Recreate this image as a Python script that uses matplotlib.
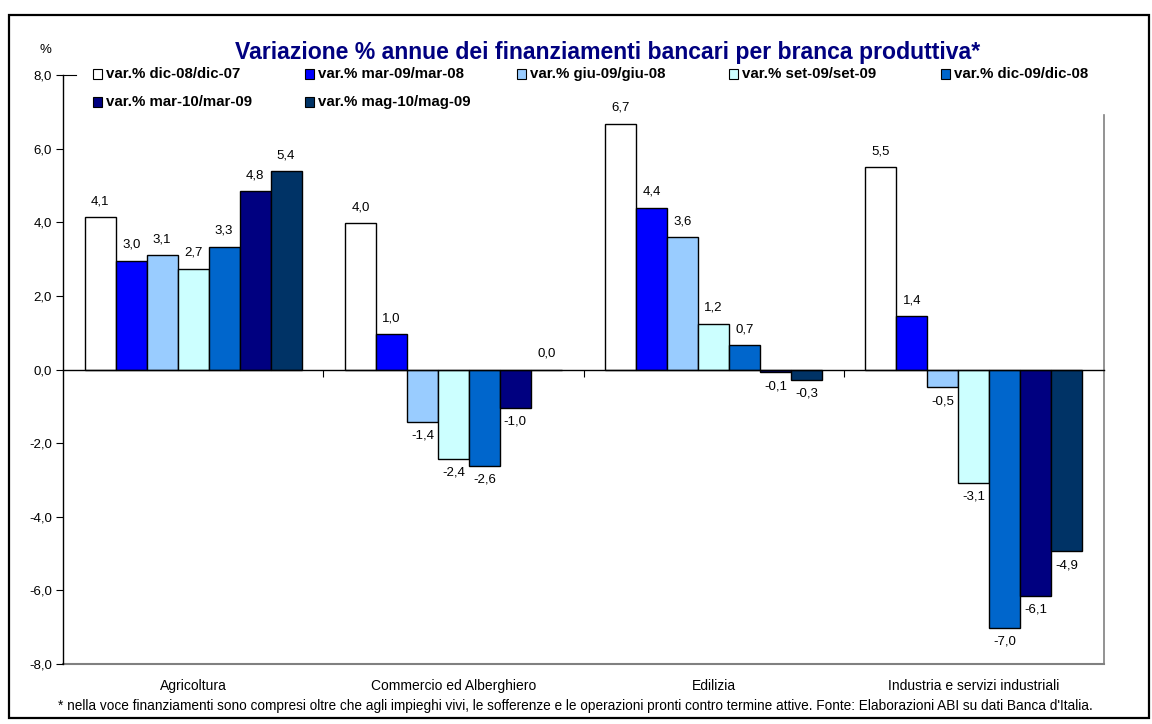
import matplotlib
matplotlib.use("Agg")
import matplotlib.pyplot as plt
from matplotlib.patches import Rectangle
import numpy as np

categories = ["Agricoltura", "Commercio ed Alberghiero", "Edilizia",
              "Industria e servizi industriali"]
series_names = ["var.% dic-08/dic-07", "var.% mar-09/mar-08", "var.% giu-09/giu-08",
                "var.% set-09/set-09", "var.% dic-09/dic-08", "var.% mar-10/mar-09",
                "var.% mag-10/mag-09"]
dic08 = [4.13, 3.98, 6.68, 5.50]
mar09 = [2.96, 0.96, 4.40, 1.44]
giu09 = [3.10, -1.42, 3.60, -0.48]
set09 = [2.74, -2.42, 1.24, -3.08]
dic09 = [3.33, -2.62, 0.66, -7.02]
mar10 = [4.84, -1.04, -0.08, -6.14]
mag10 = [5.38, 0.0, -0.28, -4.94]
series = [dic08, mar09, giu09, set09, dic09, mar10, mag10]
colors = ["#FFFFFF", "#0000FF", "#99CCFF", "#CCFFFF", "#0066CC", "#000080", "#003366"]
yticks = [-8, -6, -4, -2, 0, 2, 4, 6, 8]

FONT = "Liberation Sans"
plt.rcParams['font.family'] = [FONT, 'DejaVu Sans']

W, H = 1152, 724
fig = plt.figure(figsize=(W / 100, H / 100), dpi=100)

def fx(px):
    return px / W

def fy(py):
    return 1 - py / H

# outer frame
fig.patches.append(Rectangle((fx(9), fy(718)), fx(1149) - fx(9), fy(15) - fy(718),
                             transform=fig.transFigure, fill=False, edgecolor='black',
                             linewidth=1.6))

ax = fig.add_axes([fx(63), fy(664), fx(1104) - fx(63), fy(75) - fy(664)])

n = len(series)
bw = 0.119
x = np.arange(len(categories))
for i, (vals, c) in enumerate(zip(series, colors)):
    pos = x + (i - (n - 1) / 2) * bw
    ax.bar(pos, vals, width=bw, color=c, edgecolor='black', linewidth=1.0, zorder=3)
    for p, v in zip(pos, vals):
        lab = f"{abs(v):.1f}".replace('.', ',')
        if round(v, 1) < 0:
            lab = "-" + lab
            ax.annotate(lab, (p, v), xytext=(0, -10), textcoords='offset points',
                        ha='center', va='center', fontsize=9.5, color='black')
        else:
            ax.annotate(lab, (p, v), xytext=(0, 11.5), textcoords='offset points',
                        ha='center', va='center', fontsize=9.5, color='black')

ax.set_xlim(-0.5, len(categories) - 0.5)
ax.set_ylim(-8, 8)
ax.set_yticks(yticks)
ax.set_yticklabels([f"{t:.1f}".replace('.', ',') for t in yticks], fontsize=9.5)
ax.tick_params(axis='y', direction='out', length=5, width=0.8, pad=3)

# x axis on zero line with ticks between categories
ax.spines['bottom'].set_position(('data', 0))
ax.spines['bottom'].set_color('black')
ax.spines['bottom'].set_linewidth(1.0)
ax.spines['bottom'].set_zorder(4)
ax.set_xticks(np.arange(len(categories) - 1) + 0.5)
ax.set_xticklabels([])
ax.tick_params(axis='x', direction='out', length=5, width=0.8)

ax.spines['top'].set_visible(False)
ax.spines['left'].set_color('black')
ax.spines['left'].set_linewidth(1.0)
ax.spines['right'].set_color('#808080')
ax.spines['right'].set_linewidth(1.2)
ax.spines['right'].set_bounds(-8, 6.9)
ax.axhline(-8, color='#808080', linewidth=1.5, zorder=1, clip_on=False)

# category labels
for i, cat in enumerate(categories):
    ax.annotate(cat, (i, -8), xytext=(0, -16), textcoords='offset points',
                ha='center', va='center', fontsize=10, color='black',
                annotation_clip=False)

# short top tick stub
ax.plot([-0.5, -0.45], [8, 8], color='black', linewidth=0.8, clip_on=False)

fig.text(fx(608), fy(52), "Variazione % annue dei finanziamenti bancari per branca produttiva*",
         ha='center', va='center', fontsize=16.6, fontweight='bold', color='#000080')
fig.text(fx(45), fy(50), "%", ha='center', va='center', fontsize=9.5)

# legend
for i, (name, c) in enumerate(zip(series_names, colors)):
    col, row = i % 5, i // 5
    lx = 97 + 212 * col
    ly = 74 + 28 * row
    s = 9
    fig.patches.append(Rectangle((fx(lx - s / 2), fy(ly + s / 2)), s / W, s / H,
                                 transform=fig.transFigure, facecolor=c,
                                 edgecolor='black', linewidth=0.8))
    fig.text(fx(lx + 9), fy(ly), name, ha='left', va='center', fontsize=10.8,
             fontweight='bold', color='black')

fig.text(fx(575), fy(706),
         "* nella voce finanziamenti sono compresi oltre che agli impieghi vivi, le sofferenze e le "
         "operazioni pronti contro termine attive. Fonte: Elaborazioni ABI su dati Banca d'Italia.",
         ha='center', va='center', fontsize=9.85, color='black')

fig.savefig("out.png", dpi=100)
